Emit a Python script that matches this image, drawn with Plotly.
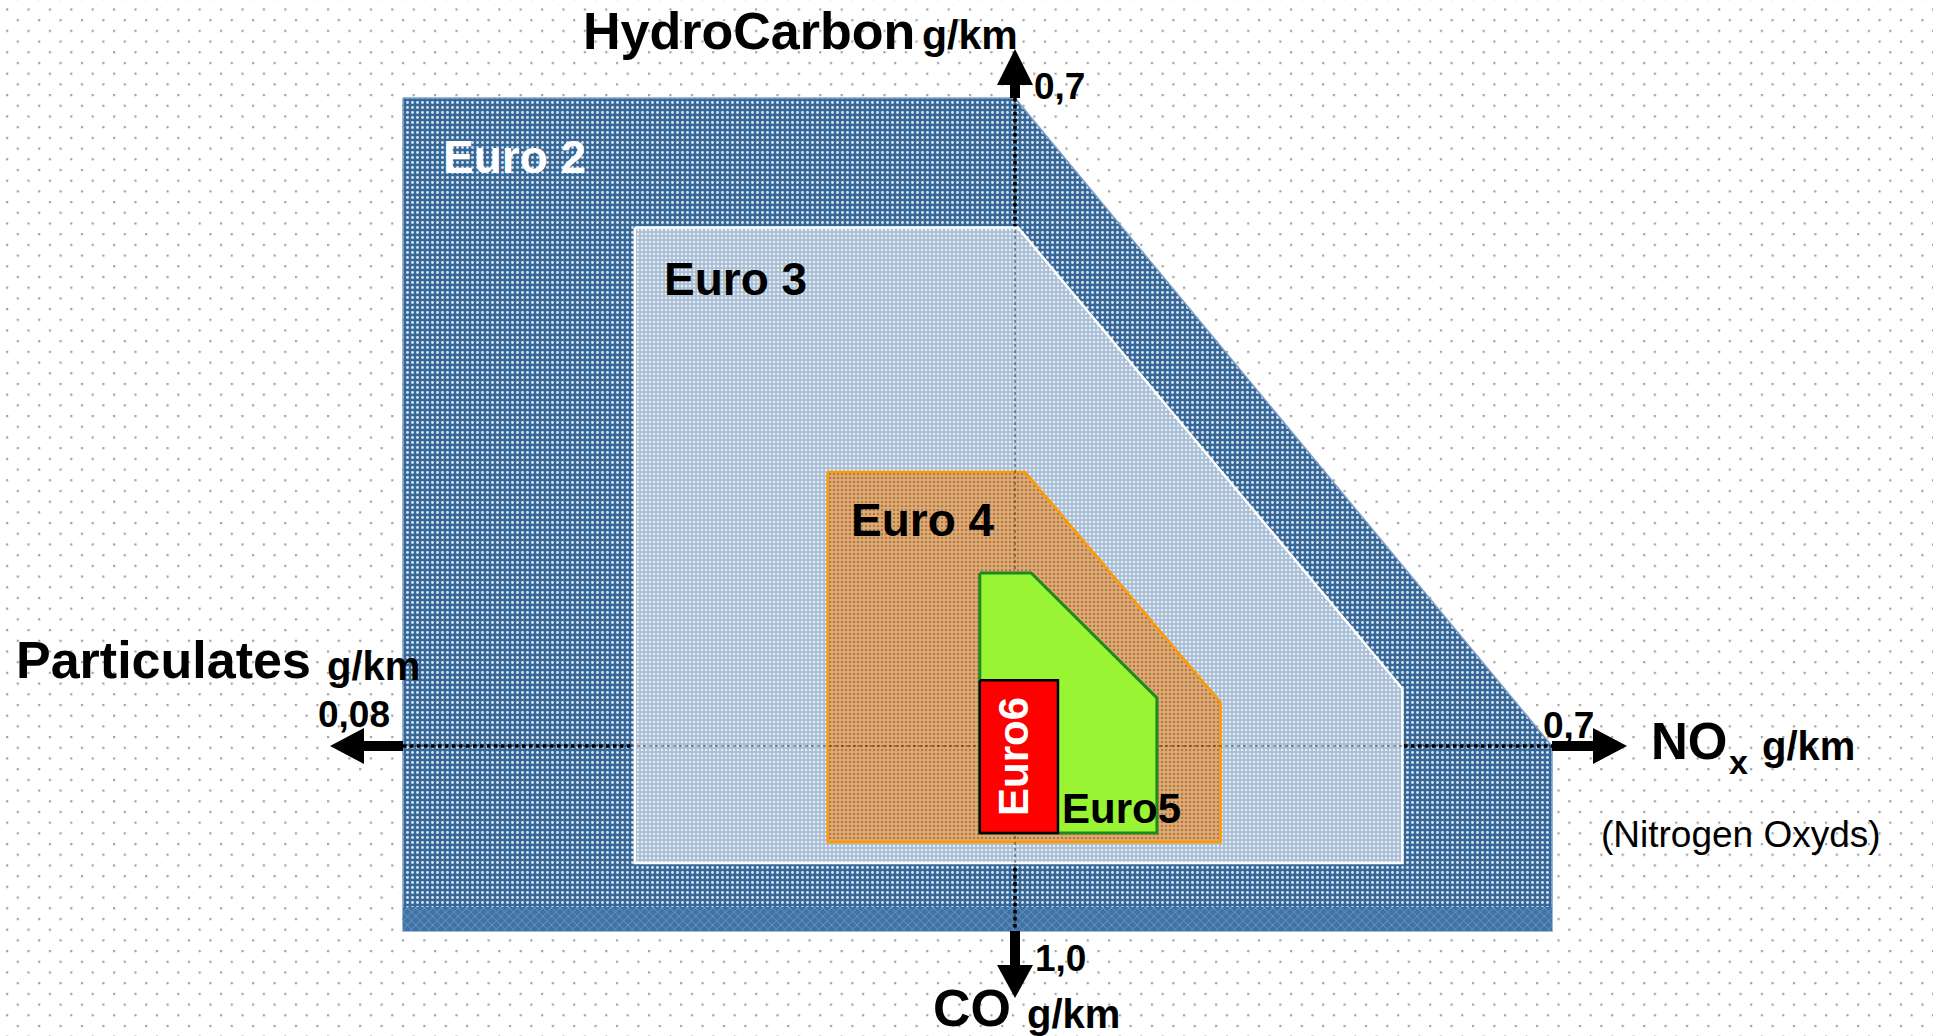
import base64
import plotly.graph_objects as go

# ---------------- data (g/km) ----------------
standards  = ["Euro 2", "Euro 3", "Euro 4", "Euro5", "Euro6"]
pm_limit   = [0.080, 0.0497, 0.0245, 0.0046, 0.0046]   # left edge  (Particulates)
hc_limit   = [0.700, 0.560, 0.296, 0.187, 0.071]       # top edge   (HydroCarbon)
nox_corner = [0.000, 0.004, 0.013, 0.021, 0.056]       # NOx where the HC+NOx cut starts
nox_limit  = [0.700, 0.505, 0.268, 0.185, 0.056]       # right edge (NOx)
hc_at_nox  = [0.000, 0.062, 0.047, 0.052, 0.071]       # HC where the cut meets the right edge
co_limit   = [1.000, 0.632, 0.519, 0.470, 0.470]       # bottom edge (CO)

axis_max    = {"hc": 0.7, "nox": 0.7, "co": 1.0, "pm": 0.08}
tick_labels = {"hc": "0,7", "nox": "0,7", "co": "1,0", "pm": "0,08"}
axis_titles = {"hc": "HydroCarbon", "nox": "NO", "co": "CO", "pm": "Particulates"}
unit = "g/km"

# ---------------- layout geometry (pixels) ----------------
W, H = 1933, 1036
OX, OY = 1015, 746                       # crossing point of the four axes
LEN = {"nox": 537, "pm": 612, "hc": 648, "co": 185}
FONT = "Liberation Sans, Arial, sans-serif"


def xn(v):  # NOx -> x
    return OX + v / axis_max["nox"] * LEN["nox"]


def xp(v):  # Particulates -> x (to the left)
    return OX - v / axis_max["pm"] * LEN["pm"]


def yh(v):  # HydroCarbon -> y (up)
    return OY - v / axis_max["hc"] * LEN["hc"]


def yc(v):  # CO -> y (down)
    return OY + v / axis_max["co"] * LEN["co"]


styles = [
    dict(line=dict(color="#7d9fc6", width=1.5), fillcolor="#356799",
         fillpattern=dict(shape=".", fgcolor="#ffffff", fgopacity=0.8, size=5, solidity=0.28,
                          fillmode="overlay")),
    dict(line=dict(color="#ffffff", width=2.5), fillcolor="#a8bed5",
         fillpattern=dict(shape=".", fgcolor="#ffffff", fgopacity=0.75, size=4, solidity=0.3,
                          fillmode="overlay")),
    dict(line=dict(color="#ff9900", width=2.5), fillcolor="#f2a65a",
         fillpattern=dict(shape=".", fgcolor="#3a6a9c", fgopacity=0.6, size=4, solidity=0.3,
                          fillmode="overlay")),
    dict(line=dict(color="#1e8a1e", width=3), fillcolor="#99f533"),
    dict(line=dict(color="#000000", width=2.5), fillcolor="#ff0000"),
]

fig = go.Figure()


def polygon(i):
    xs = [xp(pm_limit[i]), xn(nox_corner[i]), xn(nox_limit[i]), xn(nox_limit[i]),
          xp(pm_limit[i]), xp(pm_limit[i])]
    ys = [yh(hc_limit[i]), yh(hc_limit[i]), yh(hc_at_nox[i]), yc(co_limit[i]),
          yc(co_limit[i]), yh(hc_limit[i])]
    return xs, ys


def add_std(i):
    xs, ys = polygon(i)
    fig.add_trace(go.Scatter(x=xs, y=ys, mode="lines", fill="toself", name=standards[i],
                             hoverinfo="skip", showlegend=False, **styles[i]))


def add_axes_lines(color, width):
    fig.add_trace(go.Scatter(
        x=[xp(axis_max["pm"]), xn(axis_max["nox"]), None, OX, OX],
        y=[OY, OY, None, yh(axis_max["hc"]), yc(axis_max["co"])],
        mode="lines", line=dict(color=color, width=width, dash="dot"),
        hoverinfo="skip", showlegend=False))


# Euro 2 + slightly lighter bottom band of its texture
add_std(0)
band_top = 0.87 * co_limit[0]
fig.add_trace(go.Scatter(
    x=[xp(pm_limit[0]), xn(nox_limit[0]), xn(nox_limit[0]), xp(pm_limit[0]), xp(pm_limit[0])],
    y=[yc(band_top), yc(band_top), yc(co_limit[0]), yc(co_limit[0]), yc(band_top)],
    mode="lines", fill="toself", line=dict(width=0, color="rgba(0,0,0,0)"),
    fillpattern=dict(shape="x", bgcolor="#3f73a6", fgcolor="#c9d9ea", size=6, solidity=0.2),
    hoverinfo="skip", showlegend=False))
add_axes_lines("#000000", 3.5)
add_std(1)
add_std(2)
add_axes_lines("rgba(0,0,0,0.45)", 1.5)
add_std(3)
add_std(4)

# ---------------- arrows at the axis ends ----------------
shapes = []
arrows = [  # end point, direction, shaft length, head length
    ((OX, yh(axis_max["hc"])), (0, -1), 13, 36),
    ((xn(axis_max["nox"]), OY), (1, 0), 41, 34),
    ((OX, yc(axis_max["co"])), (0, 1), 34, 33),
    ((xp(axis_max["pm"]), OY), (-1, 0), 39, 34),
]
HALF = 18
for (ex, ey), (dx, dy), shaft, head in arrows:
    bx, by = ex + dx * shaft, ey + dy * shaft
    tx, ty = bx + dx * head, by + dy * head
    shapes.append(dict(type="line", xref="x", yref="y", x0=ex, y0=ey, x1=bx + dx, y1=by + dy,
                       line=dict(color="black", width=10), layer="above"))
    px, py = -dy, dx
    path = (f"M{bx + px * HALF},{by + py * HALF} L{tx},{ty} "
            f"L{bx - px * HALF},{by - py * HALF} Z")
    shapes.append(dict(type="path", xref="x", yref="y", path=path, fillcolor="black",
                       line=dict(width=0), layer="above"))

# ---------------- texts ----------------
annotations = []


def ann(text, x, y, size, color="black", bold=True, xanchor="left", angle=0):
    annotations.append(dict(text=text, x=x, y=y, xref="x", yref="y", showarrow=False,
                            xanchor=xanchor, yanchor="middle", textangle=angle, borderpad=0,
                            font=dict(family=FONT, size=size, color=color,
                                      weight="bold" if bold else "normal")))


ann(axis_titles["hc"], 582, 31, 52)
ann(unit, 921, 35, 41)
ann(tick_labels["hc"], 1033, 86, 37)

ann(axis_titles["pm"], 15, 660, 52)
ann(unit, 326, 666, 40)
ann(tick_labels["pm"], 317, 714, 37)

ann(tick_labels["nox"], 1542, 725, 37)
ann(axis_titles["nox"], 1650, 741, 51)
ann("x", 1728, 762, 34)
ann(unit, 1761, 746, 40)
ann("(Nitrogen Oxyds)", 1741, 834, 37, bold=False, xanchor="center")

ann(tick_labels["co"], 1034, 958, 37)
ann(axis_titles["co"], 932, 1008, 52)
ann(unit, 1026, 1014, 40)

ann(standards[0], 442, 157, 46, color="white")
ann(standards[1], 663, 279, 46)
ann(standards[2], 850, 520, 46)
ann(standards[3], 1061, 808, 42)
ann(standards[4], 1013, 757, 42, color="white", xanchor="center", angle=-90)

# ---------------- dotted paper background ----------------
svg = (f'<svg xmlns="http://www.w3.org/2000/svg" width="{W}" height="{H}" viewBox="0 0 {W} {H}">'
       '<defs><pattern id="d" x="6" y="8.4" width="21.4" height="21.4" patternUnits="userSpaceOnUse">'
       '<rect x="0" y="0" width="2.2" height="2.2" fill="#a3a3a3"/>'
       '<rect x="10.7" y="10.7" width="2.2" height="2.2" fill="#a3a3a3"/>'
       '</pattern></defs>'
       f'<rect x="0" y="0" width="{W}" height="{H}" fill="url(#d)"/></svg>')
bg_src = "data:image/svg+xml;base64," + base64.b64encode(svg.encode()).decode()

fig.update_layout(
    width=W, height=H, margin=dict(l=0, r=0, t=0, b=0),
    paper_bgcolor="white", plot_bgcolor="rgba(0,0,0,0)",
    xaxis=dict(range=[0, W], visible=False, fixedrange=True),
    yaxis=dict(range=[H, 0], visible=False, fixedrange=True),
    shapes=shapes, annotations=annotations, hovermode=False, showlegend=False,
    images=[dict(source=bg_src, xref="paper", yref="paper", x=0, y=1, sizex=1, sizey=1,
                 xanchor="left", yanchor="top", sizing="stretch", layer="below")],
)

fig.write_html("out.html", config={"displayModeBar": False},
               post_script="document.body.style.margin='0';document.body.style.overflow='hidden';")
